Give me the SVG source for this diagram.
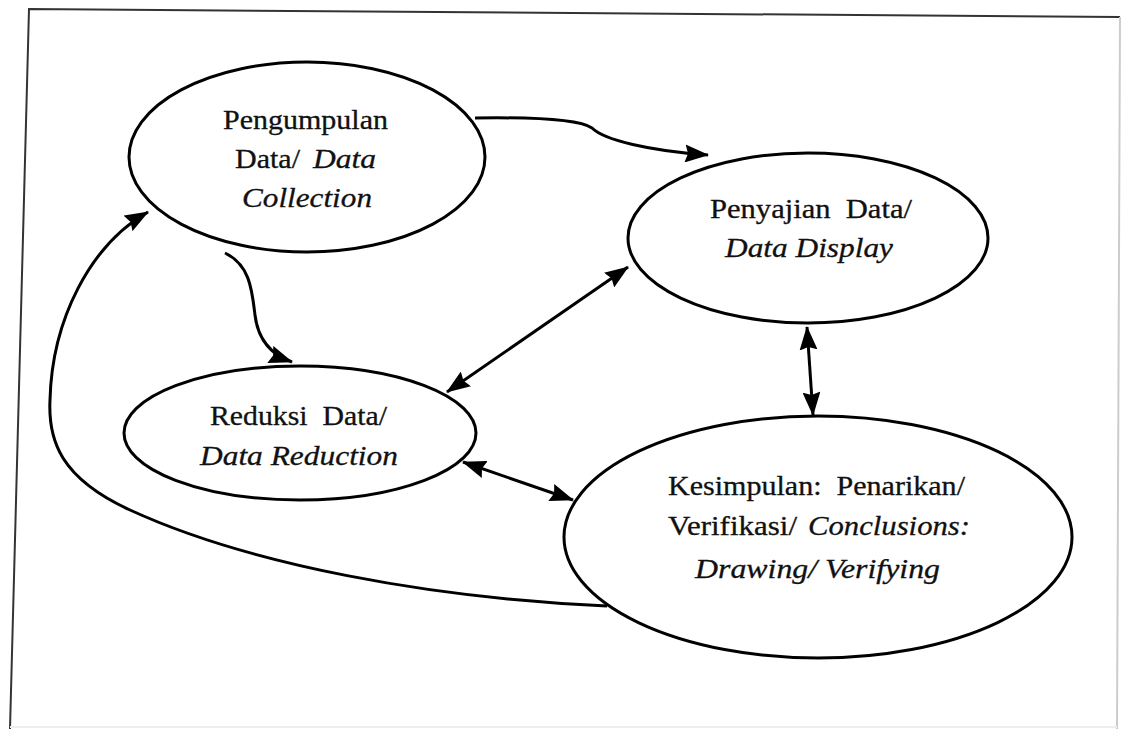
<svg xmlns="http://www.w3.org/2000/svg" width="1125" height="729" viewBox="0 0 1125 729">
<defs>
<style>
.node{fill:#fff;stroke:#000;stroke-width:3}
.conn{fill:none;stroke:#000;stroke-width:3}
text{font-family:'Liberation Serif','Times New Roman',Times,serif;font-size:27px;fill:#111;stroke:#111;stroke-width:0.3}
.i{font-style:italic}
</style>
<marker id="ah" markerUnits="userSpaceOnUse" markerWidth="24" markerHeight="18" refX="23" refY="9" orient="auto-start-reverse" viewBox="0 0 24 18">
<path d="M0,0 L24,9 L0,18 L3,9 z" fill="#000"/>
</marker>
</defs>
<rect width="1125" height="729" fill="#fff"/>
<g id="frame" fill="none">
<path d="M10,729 L29,9 L1120,17" stroke="#333" stroke-width="2"/>
<path d="M1120,17 L1117,729" stroke="#ccc" stroke-width="2"/>
<path d="M10,727 L1117,727" stroke="#eee" stroke-width="2"/>
</g>
<g id="connectors">
<line class="conn" x1="807" y1="327" x2="813" y2="415" marker-start="url(#ah)" marker-end="url(#ah)"/>
<line class="conn" x1="628" y1="267" x2="447" y2="392" marker-start="url(#ah)" marker-end="url(#ah)"/>
<line class="conn" x1="463" y1="462" x2="573" y2="500" marker-start="url(#ah)" marker-end="url(#ah)"/>
<path class="conn" d="M475,118 C540,117 580,120 592,128 C604,140 650,151 708,155" marker-end="url(#ah)"/>
<path class="conn" d="M225,253 C250,265 252,290 255,315 C258,340 272,355 292,362" marker-end="url(#ah)"/>
<path class="conn" d="M607,606 C430,598 250,565 130,510 C60,478 48,440 50,400 C52,320 90,245 148,212" marker-end="url(#ah)"/>
</g>
<g id="pengumpulan">
<ellipse class="node" cx="307" cy="157" rx="178" ry="95"/>
<text x="223" y="129" textLength="165" lengthAdjust="spacingAndGlyphs">Pengumpulan</text>
<text x="235" y="168" textLength="65" lengthAdjust="spacingAndGlyphs">Data/</text>
<text class="i" x="313" y="168" textLength="63" lengthAdjust="spacingAndGlyphs">Data</text>
<text class="i" x="242" y="207" textLength="130" lengthAdjust="spacingAndGlyphs">Collection</text>
</g>
<g id="penyajian">
<ellipse class="node" cx="808" cy="238" rx="180" ry="85"/>
<text xml:space="preserve" x="710" y="218" textLength="202" lengthAdjust="spacingAndGlyphs">Penyajian  Data/</text>
<text class="i" x="725" y="257" textLength="168" lengthAdjust="spacingAndGlyphs">Data Display</text>
</g>
<g id="reduksi">
<ellipse class="node" cx="300" cy="433" rx="176" ry="67"/>
<text xml:space="preserve" x="210" y="425" textLength="177" lengthAdjust="spacingAndGlyphs">Reduksi  Data/</text>
<text class="i" x="200" y="465" textLength="198" lengthAdjust="spacingAndGlyphs">Data Reduction</text>
</g>
<g id="kesimpulan">
<ellipse class="node" cx="818" cy="537" rx="254" ry="121"/>
<text xml:space="preserve" x="668" y="495" textLength="297" lengthAdjust="spacingAndGlyphs">Kesimpulan:  Penarikan/</text>
<text x="668" y="535" textLength="129" lengthAdjust="spacingAndGlyphs">Verifikasi/</text>
<text class="i" x="808" y="535" textLength="162" lengthAdjust="spacingAndGlyphs">Conclusions:</text>
<text class="i" x="695" y="578" textLength="245" lengthAdjust="spacingAndGlyphs">Drawing/ Verifying</text>
</g>
</svg>
